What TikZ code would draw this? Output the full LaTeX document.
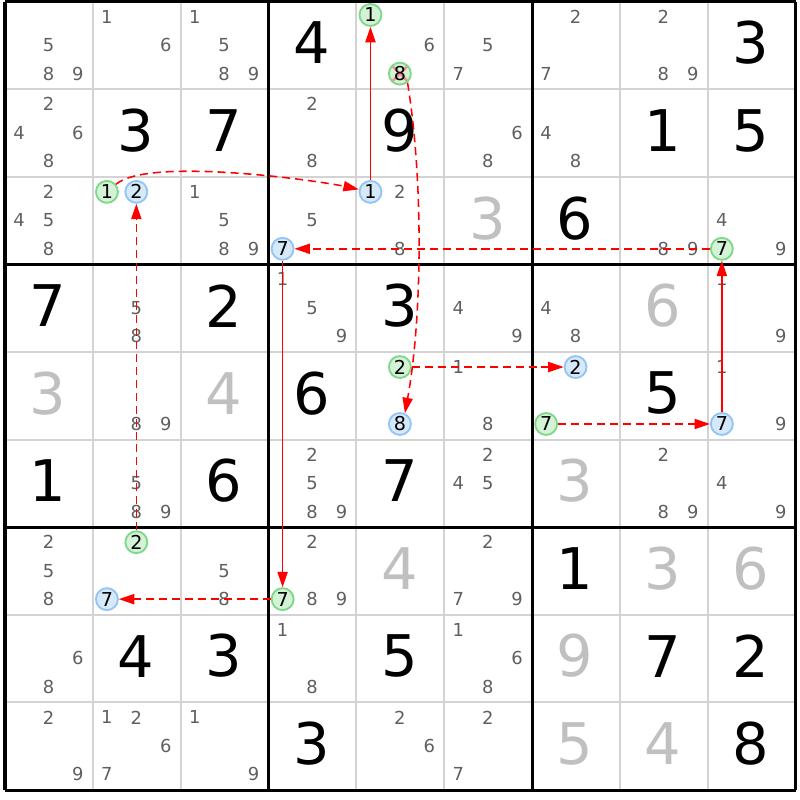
\documentclass[tikz,border=0pt]{standalone}
\usepackage{fontspec}
\setmainfont{DejaVu Sans}
\usetikzlibrary{arrows.meta}

\definecolor{gridgray}{HTML}{D3D3D3}
\definecolor{candgray}{HTML}{5F5F5F}
\definecolor{solvedgray}{HTML}{C0C0C0}
\definecolor{onfill}{HTML}{D4F2D6}
\definecolor{ondraw}{HTML}{7FD88A}
\definecolor{offfill}{HTML}{D6E9FB}
\definecolor{offdraw}{HTML}{92C5F5}
\definecolor{crossred}{HTML}{F29090}

\tikzset{
  thinline/.style={draw=gridgray, line width=0.65pt},
  boxline/.style={draw=black, line width=1pt},
  given/.style={inner sep=0pt, font=\fontsize{18.6}{20}\selectfont, text=black},
  solved/.style={given, text=solvedgray},
  cand/.style={inner sep=0pt, font=\fontsize{5.8}{6}\selectfont, text=candgray},
  oncand/.style={circle, inner sep=0pt, minimum size=0.25cm, line width=0.6pt,
    draw=ondraw, fill=onfill, font=\fontsize{6.2}{7}\selectfont, text=black},
  offcand/.style={oncand, draw=offdraw, fill=offfill},
  crossed/.style={oncand, path picture={
    \draw[crossred, line width=0.8pt]
      (path picture bounding box.north west) -- (path picture bounding box.south east)
      (path picture bounding box.north east) -- (path picture bounding box.south west);}},
  stronglink/.style={red, line width=0.5pt, -{Triangle[length=5pt, width=3.3pt]}},
  weaklink/.style={stronglink, dash pattern=on 2.6pt off 1.6pt}
}

\begin{document}
\begin{tikzpicture}[x=1cm, y=-0.997cm]
    \useasboundingbox (-0.057cm,0.0205cm) rectangle (9.049cm,-9.086cm);

    \foreach \i in {1,2,4,5,7,8} {
      \draw[thinline] (\i,0) -- (\i,9);
      \draw[thinline] (0,\i) -- (9,\i);
    }
    \foreach \i in {0,3,6,9} {
      \draw[boxline] (\i,0) -- (\i,9);
      \draw[boxline] (0,\i) -- (9,\i);
    }

    \foreach \c/\r/\v in {3/0/4, 8/0/3, 1/1/3, 2/1/7, 4/1/9, 7/1/1, 8/1/5, 6/2/6,
        0/3/7, 2/3/2, 4/3/3, 3/4/6, 7/4/5, 0/5/1, 2/5/6, 4/5/7, 6/6/1,
        1/7/4, 2/7/3, 4/7/5, 7/7/7, 8/7/2, 3/8/3, 8/8/8}
      \node[given] (g\r\c) at (\c+0.49,\r+0.47) {\v};
    \foreach \c/\r/\v in {5/2/3, 7/3/6, 0/4/3, 2/4/4, 6/5/3, 4/6/4, 7/6/3, 8/6/6,
        6/7/9, 6/8/5, 7/8/4}
      \node[solved] (s\r\c) at (\c+0.49,\r+0.47) {\v};

    \foreach \c/\r/\d in {0/0/5, 0/0/8, 0/0/9, 1/0/1, 1/0/6, 2/0/1, 2/0/5, 2/0/8, 2/0/9,
        4/0/6, 5/0/5, 5/0/7, 6/0/2, 6/0/7, 7/0/2, 7/0/8, 7/0/9,
        0/1/2, 0/1/4, 0/1/6, 0/1/8, 3/1/2, 3/1/8, 5/1/6, 5/1/8, 6/1/4, 6/1/8,
        0/2/2, 0/2/4, 0/2/5, 0/2/8, 2/2/1, 2/2/5, 2/2/8, 2/2/9, 3/2/5, 4/2/2, 4/2/8,
        7/2/8, 7/2/9, 8/2/4, 8/2/9,
        1/3/5, 1/3/8, 3/3/1, 3/3/5, 3/3/9, 5/3/4, 5/3/9, 6/3/4, 6/3/8, 8/3/1, 8/3/9,
        1/4/8, 1/4/9, 5/4/1, 5/4/8, 8/4/1, 8/4/9,
        1/5/5, 1/5/8, 1/5/9, 3/5/2, 3/5/5, 3/5/8, 3/5/9, 5/5/2, 5/5/4, 5/5/5,
        7/5/2, 7/5/8, 7/5/9, 8/5/4, 8/5/9,
        0/6/2, 0/6/5, 0/6/8, 2/6/5, 2/6/8, 3/6/2, 3/6/8, 3/6/9, 5/6/2, 5/6/7, 5/6/9,
        0/7/6, 0/7/8, 3/7/1, 3/7/8, 5/7/1, 5/7/6, 5/7/8,
        0/8/2, 0/8/9, 1/8/1, 1/8/2, 1/8/6, 1/8/7, 2/8/1, 2/8/9, 4/8/2, 4/8/6, 5/8/2, 5/8/7} {
      \pgfmathsetmacro\cx{\c+0.16+0.335*mod(\d-1,3)}
      \pgfmathsetmacro\cy{\r+0.17+0.325*floor((\d-1)/3)}
      \node[cand] (r\r c\c d\d) at (\cx,\cy) {\d};
    }

    \node[oncand] (r2c1d1) at (1.16,2.17) {1};
    \node[offcand] (r2c1d2) at (1.495,2.17) {2};
    \node[offcand] (r2c3d7) at (3.16,2.82) {7};
    \node[offcand] (r2c4d1) at (4.16,2.17) {1};
    \node[oncand] (r0c4d1) at (4.16,0.15) {1};
    \node[crossed] (r0c4d8) at (4.495,0.82) {8};
    \node[oncand] (r2c8d7) at (8.16,2.82) {7};
    \node[oncand] (r4c4d2) at (4.495,4.17) {2};
    \node[offcand] (r4c4d8) at (4.495,4.82) {8};
    \node[offcand] (r4c6d2) at (6.495,4.17) {2};
    \node[oncand] (r4c6d7) at (6.16,4.82) {7};
    \node[offcand] (r4c8d7) at (8.16,4.82) {7};
    \node[oncand] (r6c1d2) at (1.495,6.17) {2};
    \node[offcand] (r6c1d7) at (1.16,6.82) {7};
    \node[oncand] (r6c3d7) at (3.16,6.82) {7};

    \draw[weaklink] (r2c1d1) to[out=40,in=168,looseness=0.45] (r2c4d1);
    \draw[stronglink] (r2c4d1) -- (r0c4d1);
    \draw[weaklink] (r0c4d8.-50) .. controls +(0.18,1.1) and +(0.2,-1.1) .. (r4c4d8.65);
    \draw[weaklink] (r4c4d2) -- (r4c6d2);
    \draw[weaklink] (r4c6d7) -- (r4c8d7);
    \draw[stronglink] (r4c8d7) -- (r2c8d7);
    \draw[weaklink] (r2c8d7) -- (r2c3d7);
    \draw[stronglink] (r2c3d7) -- (r6c3d7);
    \draw[weaklink] (r6c3d7) -- (r6c1d7);
    \draw[weaklink] (r6c1d2) -- (r2c1d2);

\end{tikzpicture}
\end{document}
